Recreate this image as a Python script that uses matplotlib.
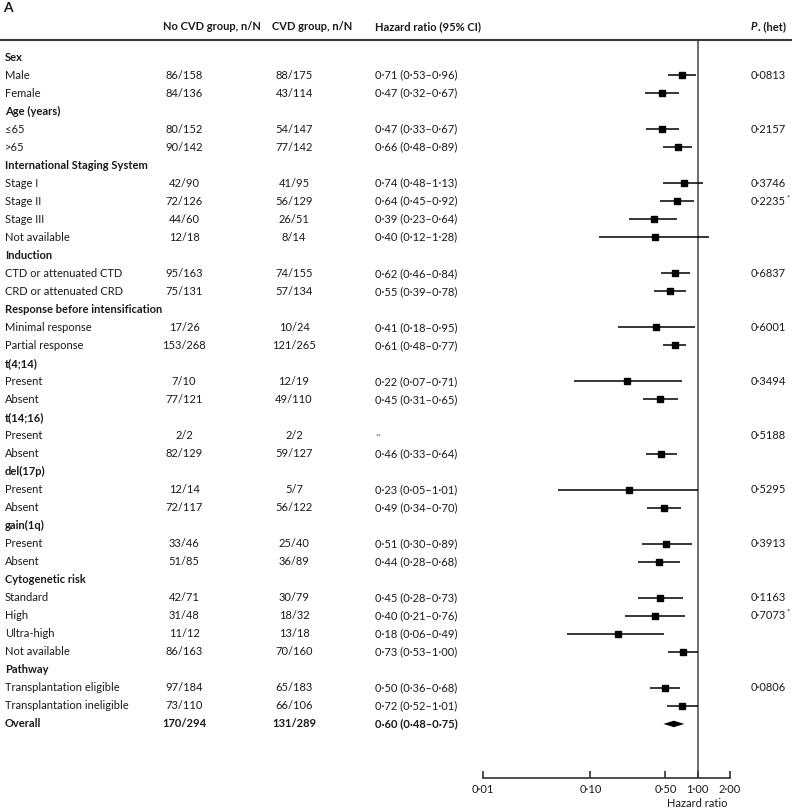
import numpy as np
import matplotlib
matplotlib.use("Agg")
import matplotlib.pyplot as plt
from matplotlib.lines import Line2D
from matplotlib.transforms import blended_transform_factory
from matplotlib.ticker import NullLocator

plt.rcParams['font.family'] = ['Lato', 'DejaVu Sans']

# subgroup rows, top to bottom
labels = ["Sex", "Male", "Female",
          "Age (years)", "≤65", ">65",
          "International Staging System", "Stage I", "Stage II", "Stage III", "Not available",
          "Induction", "CTD or attenuated CTD", "CRD or attenuated CRD",
          "Response before intensification", "Minimal response", "Partial response",
          "t(4;14)", "Present", "Absent",
          "t(14;16)", "Present", "Absent",
          "del(17p)", "Present", "Absent",
          "gain(1q)", "Present", "Absent",
          "Cytogenetic risk", "Standard", "High", "Ultra-high", "Not available",
          "Pathway", "Transplantation eligible", "Transplantation ineligible",
          "Overall"]
bold_rows = [0, 3, 6, 11, 14, 17, 20, 23, 26, 29, 34, 37]

no_cvd = ["", "86/158", "84/136", "", "80/152", "90/142", "", "42/90", "72/126", "44/60", "12/18",
          "", "95/163", "75/131", "", "17/26", "153/268", "", "7/10", "77/121", "", "2/2", "82/129",
          "", "12/14", "72/117", "", "33/46", "51/85", "", "42/71", "31/48", "11/12", "86/163",
          "", "97/184", "73/110", "170/294"]
cvd = ["", "88/175", "43/114", "", "54/147", "77/142", "", "41/95", "56/129", "26/51", "8/14",
       "", "74/155", "57/134", "", "10/24", "121/265", "", "12/19", "49/110", "", "2/2", "59/127",
       "", "5/7", "56/122", "", "25/40", "36/89", "", "30/79", "18/32", "13/18", "70/160",
       "", "65/183", "66/106", "131/289"]

nan = np.nan
hr = [nan, 0.71, 0.47, nan, 0.47, 0.66, nan, 0.74, 0.64, 0.39, 0.40, nan, 0.62, 0.55,
      nan, 0.41, 0.61, nan, 0.22, 0.45, nan, nan, 0.46, nan, 0.23, 0.49, nan, 0.51, 0.44,
      nan, 0.45, 0.40, 0.18, 0.73, nan, 0.50, 0.72, 0.60]
ci_lo = [nan, 0.53, 0.32, nan, 0.33, 0.48, nan, 0.48, 0.45, 0.23, 0.12, nan, 0.46, 0.39,
         nan, 0.18, 0.48, nan, 0.07, 0.31, nan, nan, 0.33, nan, 0.05, 0.34, nan, 0.30, 0.28,
         nan, 0.28, 0.21, 0.06, 0.53, nan, 0.36, 0.52, 0.48]
ci_hi = [nan, 0.96, 0.67, nan, 0.67, 0.89, nan, 1.13, 0.92, 0.64, 1.28, nan, 0.84, 0.78,
         nan, 0.95, 0.77, nan, 0.71, 0.65, nan, nan, 0.64, nan, 1.01, 0.70, nan, 0.89, 0.68,
         nan, 0.73, 0.76, 0.49, 1.00, nan, 0.68, 1.01, 0.75]

p_het = ["", "0·0813", "", "", "0·2157", "", "", "0·3746", "0·2235*", "", "", "", "0·6837", "",
         "", "0·6001", "", "", "0·3494", "", "", "0·5188", "", "", "0·5295", "", "", "0·3913", "",
         "", "0·1163", "0·7073*", "", "", "", "0·0806", "", ""]

xticks = [0.01, 0.10, 0.50, 1.00, 2.00]

W, H = 792, 810
fig = plt.figure(figsize=(W / 100, H / 100), dpi=100)
fs = 8
tc = '#1a1a1a'

ax = fig.add_axes([483 / W, 1 - 778 / H, (730 - 483) / W, (778 - 39) / H])
ax.set_xscale('log')
ax.set_xlim(0.01, 2.0)
ax.set_ylim(40, -1)
for s in ['top', 'right', 'left']:
    ax.spines[s].set_visible(False)
ax.spines['bottom'].set_color('#333333')
ax.spines['bottom'].set_linewidth(1.2)
ax.set_xticks(xticks)
ax.set_xticklabels([f"{t:.2f}".replace('.', '·') for t in xticks], fontsize=fs, color=tc)
ax.xaxis.set_minor_locator(NullLocator())
ax.tick_params(axis='x', direction='in', length=5, width=1.2, color='#333333', pad=4)
ax.set_yticks([])
ax.patch.set_visible(False)

ax.axvline(1.0, color='#555555', lw=1.2, zorder=1)

rows = np.arange(len(labels))
hr_a = np.array(hr)
lo_a = np.array(ci_lo)
hi_a = np.array(ci_hi)
last = len(labels) - 1
sub = [i for i in rows if not np.isnan(hr_a[i]) and i != last]
ax.hlines(rows[sub], lo_a[sub], hi_a[sub], color='black', lw=1.1, zorder=2)
ax.plot(hr_a[sub], rows[sub], 's', color='black', ms=4.5, zorder=3)
# overall diamond
h = 0.18
ax.fill([lo_a[last], hr_a[last], hi_a[last], hr_a[last]],
        [last, last - h, last, last + h], color='black', lw=0, zorder=3)

ax.text(1.0, 1 / H, "Hazard ratio", transform=blended_transform_factory(ax.transData, fig.transFigure),
        ha='center', va='bottom', fontsize=fs, color=tc)

# table text
tr = blended_transform_factory(fig.transFigure, ax.transData)
for i in rows:
    w = 'bold' if i in bold_rows else 'normal'
    ax.text(5 / W, i, labels[i], transform=tr, ha='left', va='center', fontsize=fs, weight=w, color=tc)
    wn = 'bold' if i == last else 'normal'
    if no_cvd[i]:
        ax.text(184 / W, i, no_cvd[i], transform=tr, ha='center', va='center', fontsize=fs, weight=wn, color=tc)
    if cvd[i]:
        ax.text(294 / W, i, cvd[i], transform=tr, ha='center', va='center', fontsize=fs, weight=wn, color=tc)
    if not np.isnan(hr_a[i]):
        s = f"{hr_a[i]:.2f} ({lo_a[i]:.2f}–{hi_a[i]:.2f})".replace('.', '·')
        ax.text(375 / W, i, s, transform=tr, ha='left', va='center', fontsize=fs, weight=wn, color=tc)
    elif no_cvd[i]:
        ax.text(375 / W, i, "··", transform=tr, ha='left', va='center', fontsize=fs, color='#888888')
    if p_het[i]:
        star = p_het[i].endswith('*')
        t = ax.text(751 / W, i, p_het[i].rstrip('*'), transform=tr, ha='left', va='center',
                    fontsize=fs, color=tc)
        if star:
            ax.annotate("*", xy=(1, 1), xycoords=t, xytext=(0.5, 1), textcoords='offset points',
                        ha='left', va='top', fontsize=fs - 2.5, color=tc)

# header
hy = 1 - 27 / H
fig.text(163 / W, hy, "No CVD group, n/N", ha='left', va='center', fontsize=fs, weight='bold', color=tc)
fig.text(272 / W, hy, "CVD group, n/N", ha='left', va='center', fontsize=fs, weight='bold', color=tc)
fig.text(375 / W, hy, "Hazard ratio (95% CI)", ha='left', va='center', fontsize=fs, weight='bold', color=tc)
pt = fig.text(751 / W, hy, "P", ha='left', va='center', fontsize=fs, weight='bold', style='italic', color=tc)
ax.annotate(". (het)", xy=(1, 0.5), xycoords=pt, ha='left', va='center', fontsize=fs, weight='bold', color=tc)
fig.text(3 / W, 1 - 8 / H, "A", ha='left', va='center', fontsize=10, weight='bold', color=tc)

fig.add_artist(Line2D([0, 1], [1 - 40 / H] * 2, transform=fig.transFigure, color='#3a3a3a', lw=1.5))

fig.savefig("out.png", dpi=100)
